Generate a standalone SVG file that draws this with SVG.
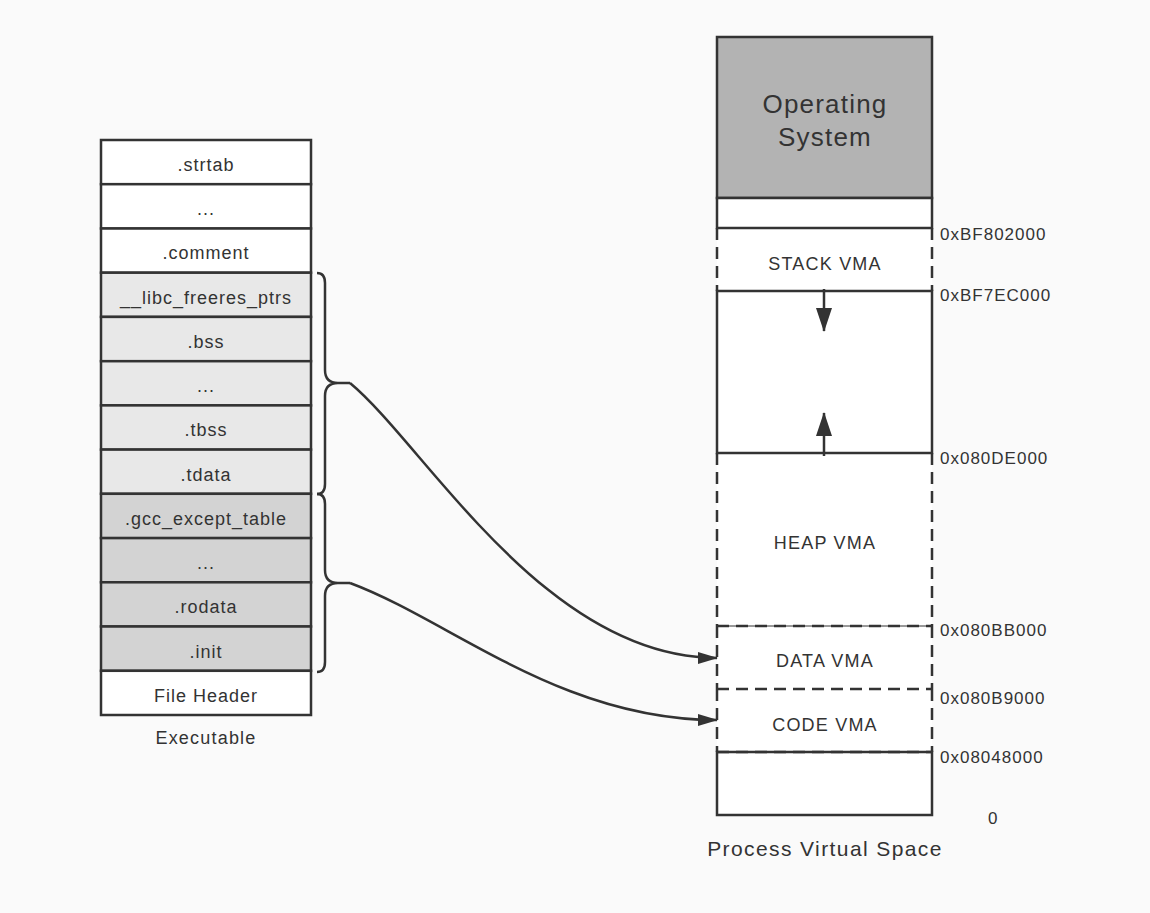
<svg xmlns="http://www.w3.org/2000/svg" width="1150" height="913" viewBox="0 0 1150 913">
<defs>
<style>
.t{font-family:"Liberation Sans",Arial,sans-serif;fill:#333;text-anchor:middle}
.s{font-size:18px;letter-spacing:1px}
.v{font-size:18px;letter-spacing:1.2px}
.a{font-family:"Liberation Sans",Arial,sans-serif;fill:#333;font-size:17px;letter-spacing:1px}
.box{stroke:#333;stroke-width:2.5}
.w{fill:#fff}.g1{fill:#e8e8e8}.g2{fill:#d3d3d3}
.ln{stroke:#333;stroke-width:2.5;fill:none}
.dl{stroke:#333;stroke-width:2.5;fill:none;stroke-dasharray:12 7}
</style>
<marker id="ah" viewBox="0 0 20 12" refX="19" refY="6" markerWidth="20" markerHeight="12" markerUnits="userSpaceOnUse" orient="auto">
<path d="M0,0 L20,6 L0,12 Z" fill="#333"/>
</marker>
<marker id="ah2" viewBox="0 0 24 16" refX="23" refY="8" markerWidth="24" markerHeight="16" markerUnits="userSpaceOnUse" orient="auto">
<path d="M0,0 L24,8 L0,16 Z" fill="#333"/>
</marker>
</defs>
<rect width="1150" height="913" fill="#fafafa"/>

<g id="executable">
<g id="strtab"><rect class="box w" x="101" y="140" width="210" height="44.2"/><text class="t s" x="206" y="171">.strtab</text></g>
<g id="dots1"><rect class="box w" x="101" y="184.2" width="210" height="44.3"/><text class="t s" x="206" y="215">...</text></g>
<g id="comment"><rect class="box w" x="101" y="228.5" width="210" height="44.2"/><text class="t s" x="206" y="259">.comment</text></g>
<g id="libc"><rect class="box g1" x="101" y="272.7" width="210" height="44.2"/><text class="t s" x="206" y="304">__libc_freeres_ptrs</text></g>
<g id="bss"><rect class="box g1" x="101" y="316.9" width="210" height="44.3"/><text class="t s" x="206" y="348">.bss</text></g>
<g id="dots2"><rect class="box g1" x="101" y="361.2" width="210" height="44.2"/><text class="t s" x="206" y="392">...</text></g>
<g id="tbss"><rect class="box g1" x="101" y="405.4" width="210" height="44.2"/><text class="t s" x="206" y="436">.tbss</text></g>
<g id="tdata"><rect class="box g1" x="101" y="449.6" width="210" height="44.2"/><text class="t s" x="206" y="481">.tdata</text></g>
<g id="gcc"><rect class="box g2" x="101" y="493.8" width="210" height="44.3"/><text class="t s" x="206" y="525">.gcc_except_table</text></g>
<g id="dots3"><rect class="box g2" x="101" y="538.1" width="210" height="44.2"/><text class="t s" x="206" y="569">...</text></g>
<g id="rodata"><rect class="box g2" x="101" y="582.3" width="210" height="44.2"/><text class="t s" x="206" y="613">.rodata</text></g>
<g id="init"><rect class="box g2" x="101" y="626.5" width="210" height="44.3"/><text class="t s" x="206" y="658">.init</text></g>
<g id="fileheader"><rect class="box w" x="101" y="670.8" width="210" height="44.2"/><text class="t s" x="206" y="702">File Header</text></g>
<text class="t" font-size="18" letter-spacing="1.2" x="206" y="744">Executable</text>
</g>

<g id="braces">
<path class="ln" d="M317,273 Q325,273 325,283 L325,370 Q325,383 338,383 L350,383 M338,383 Q325,383 325,396 L325,484 Q325,494 317,494"/>
<path class="ln" d="M317,494 Q325,494 325,504 L325,570 Q325,583 338,583 L350,583 M338,583 Q325,583 325,596 L325,662 Q325,672 317,672"/>
</g>

<g id="process">
<g id="stack"><rect fill="#fff" x="717" y="228" width="215" height="63"/><path class="dl" d="M717,228 L717,291 M932,228 L932,291"/><text class="t v" x="825" y="270">STACK VMA</text></g>
<g id="heap"><rect fill="#fff" x="717" y="453" width="215" height="173"/><path class="dl" d="M717,453 L717,626 M932,453 L932,626"/><text class="t v" x="825" y="549">HEAP VMA</text></g>
<g id="data"><rect fill="#fff" x="717" y="626" width="215" height="63"/><path class="dl" d="M717,626 L717,689 M932,626 L932,689"/><text class="t v" x="825" y="667">DATA VMA</text></g>
<g id="code"><rect fill="#fff" x="717" y="689" width="215" height="63"/><path class="dl" d="M717,689 L717,752 M932,689 L932,752"/><text class="t v" x="825" y="731">CODE VMA</text></g>
<g id="os"><rect class="box" fill="#b3b3b3" x="717" y="37" width="215" height="161"/><text class="t" font-size="26" letter-spacing="1.2" x="825" y="113">Operating</text><text class="t" font-size="26" letter-spacing="1.2" x="825" y="146">System</text></g>
<g id="gap"><rect class="box w" x="717" y="198" width="215" height="30"/></g>
<g id="free"><rect class="box w" x="717" y="291" width="215" height="162"/></g>
<g id="bottom"><rect class="box w" x="717" y="752" width="215" height="63"/></g>
<path stroke="#333" stroke-width="1" d="M717,626 L932,626"/>
<path class="dl" d="M717,626 L932,626 M717,689 L932,689 M717,752 L932,752"/>
<text class="a" x="940" y="240">0xBF802000</text>
<text class="a" x="940" y="301">0xBF7EC000</text>
<text class="a" x="940" y="464">0x080DE000</text>
<text class="a" x="940" y="636">0x080BB000</text>
<text class="a" x="940" y="704">0x080B9000</text>
<text class="a" x="940" y="763">0x08048000</text>
<text class="a" x="988" y="824">0</text>
<text class="t" font-size="21" letter-spacing="1.4" x="825" y="856">Process Virtual Space</text>
</g>

<g id="connectors">
<path class="ln" d="M824,289 L824,331" marker-end="url(#ah2)"/>
<path class="ln" d="M824,456 L824,413" marker-end="url(#ah2)"/>
<path class="ln" d="M350,383 C425,445 545,658 717,658" marker-end="url(#ah)"/>
<path class="ln" d="M350,583 C450,620 560,720 717,720" marker-end="url(#ah)"/>
</g>
</svg>
